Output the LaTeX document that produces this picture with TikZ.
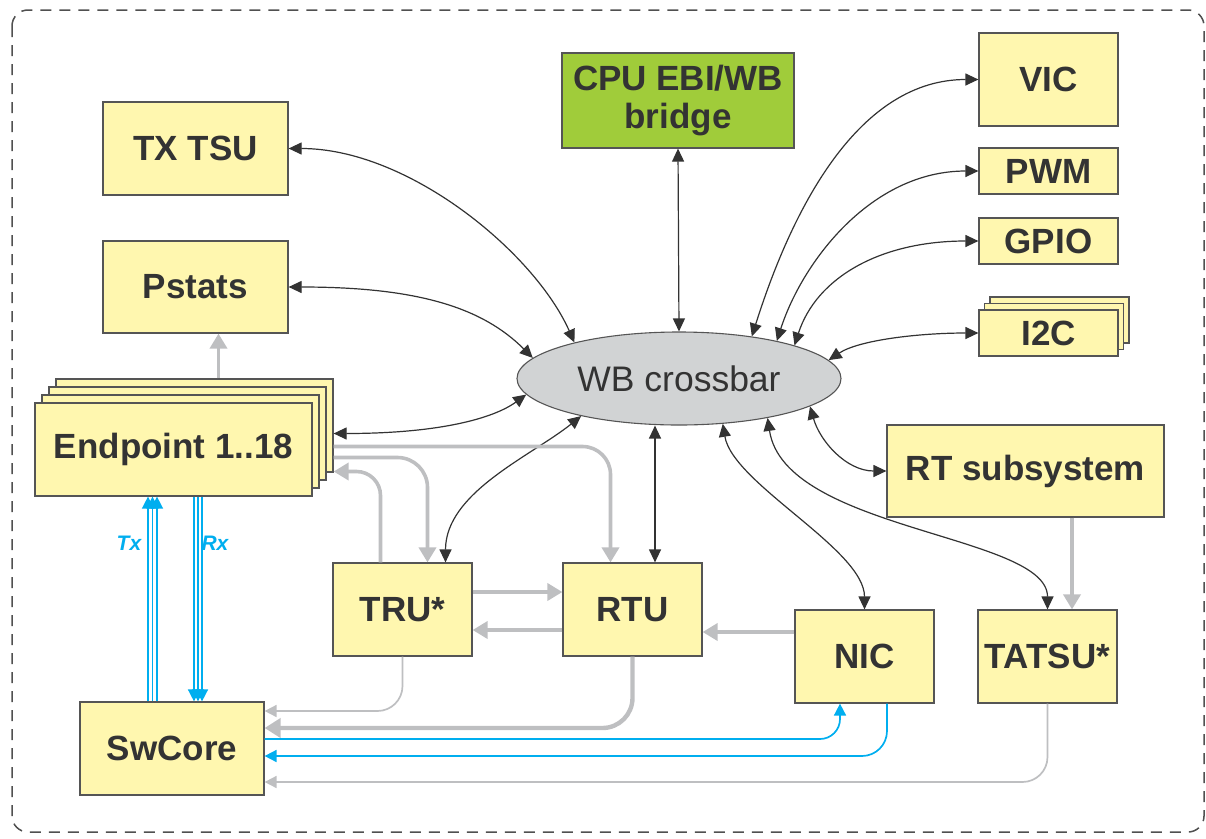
\documentclass[tikz,border=0pt]{standalone}
\usepackage{fontspec}
\setmainfont{Liberation Sans}
\usetikzlibrary{arrows.meta,calc,shapes.geometric}

\definecolor{boxfill}{RGB}{255,247,175}
\definecolor{boxline}{RGB}{85,85,85}
\definecolor{txt}{RGB}{51,51,51}
\definecolor{cpugreen}{RGB}{160,204,58}
\definecolor{busfill}{RGB}{209,211,212}
\definecolor{linkdark}{RGB}{51,51,51}
\definecolor{linkgray}{RGB}{190,191,193}
\definecolor{linkblue}{RGB}{0,174,239}
\definecolor{framecol}{RGB}{80,80,80}

\begin{document}
\begin{tikzpicture}[x=1pt,y=-1pt,
  blk/.style={draw=boxline, line width=1.2pt, fill=boxfill, inner sep=0pt,
              text=txt, font=\fontsize{35}{38}\selectfont\bfseries, align=center},
  bus/.style={ellipse, draw=boxline, line width=1.1pt, fill=busfill, inner sep=0pt,
              text=txt, font=\fontsize{35.5}{38}\selectfont},
  dk/.style={draw=linkdark, line width=1.2pt,
             arrows={Triangle[length=13pt,width=12pt]-Triangle[length=13pt,width=12pt]}},
  gk/.style={draw=linkgray, line width=3.6pt,
             arrows={-Triangle[length=15pt,width=17pt]}},
  gheavy/.style={draw=linkgray, line width=4.4pt,
             arrows={-Triangle[length=16pt,width=19pt]}},
  gthin/.style={draw=linkgray, line width=1.7pt,
             arrows={-Triangle[length=12pt,width=12pt]}},
  bl/.style={draw=linkblue, line width=1.7pt,
             arrows={-Triangle[length=12pt,width=12pt]}},
  blt/.style={draw=linkblue, line width=1.5pt,
             arrows={-Triangle[length=12pt,width=12pt]}},
  lbl/.style={text=linkblue, inner sep=0pt, font=\fontsize{21}{23}\selectfont\bfseries\itshape},
  frame/.style={draw=framecol, line width=1.5pt, dash pattern=on 11pt off 8pt, rounded corners=16pt}
]
\useasboundingbox (0,0) rectangle (1206,838);

% outer dashed frame
\draw[frame] (12,10) rectangle (1204,832);

% ---- blocks ----
\node[blk, minimum width=185pt, minimum height=93pt] (txtsu) at (195.5,148.5) {TX TSU};
\node[blk, minimum width=185pt, minimum height=92pt] (pstats) at (195.5,287) {Pstats};

% endpoint stack (back to front)
\node[blk, minimum width=277pt, minimum height=93pt] (epback) at (194.5,425.5) {};
\node[blk, minimum width=277pt, minimum height=93pt] (ep2) at (187.5,433.5) {};
\node[blk, minimum width=277pt, minimum height=93pt] (ep1) at (180.5,441.5) {};
\node[blk, minimum width=277pt, minimum height=93pt] (ep) at (173.5,449.5) {Endpoint 1..18};

\node[blk, fill=cpugreen, minimum width=232pt, minimum height=95pt] (cpu) at (678,100.5) {CPU EBI/WB\\bridge};

\node[blk, minimum width=139pt, minimum height=93pt] (vic) at (1048.5,79.5) {VIC};
\node[blk, minimum width=139pt, minimum height=46pt] (pwm) at (1048.5,171) {PWM};
\node[blk, minimum width=139pt, minimum height=46pt] (gpio) at (1048.5,241) {GPIO};

% I2C stack (back to front)
\node[blk, minimum width=139pt, minimum height=46pt] (i2cback) at (1059.5,320) {};
\node[blk, minimum width=139pt, minimum height=46pt] (i2cmid) at (1054,326.5) {};
\node[blk, minimum width=139pt, minimum height=46pt] (i2c) at (1048.5,333) {I2C};

\node[bus, minimum width=324pt, minimum height=93pt] (wb) at (679,378.5) {WB crossbar};

\node[blk, minimum width=277pt, minimum height=92pt] (rt) at (1025.5,471) {RT subsystem};
\node[blk, minimum width=139pt, minimum height=93pt] (tru) at (402.5,609.5) {TRU*};
\node[blk, minimum width=139pt, minimum height=93pt] (rtu) at (632.5,609.5) {RTU};
\node[blk, minimum width=139pt, minimum height=93pt] (nic) at (864.5,656.5) {NIC};
\node[blk, minimum width=139pt, minimum height=93pt] (tatsu) at (1047.5,656.5) {TATSU*};
\node[blk, minimum width=184pt, minimum height=93pt] (swcore) at (172,748.5) {SwCore};

% ---- Wishbone links (bidirectional) ----
\draw[dk] (txtsu.east) .. controls +(120,0) and +(-40,-90) .. (wb.161);
\draw[dk] (pstats.east) .. controls +(130,0) and +(-50,-50) .. (wb.172);
\draw[dk] ([yshift=-8pt]epback.east) .. controls +(105,0) and +(-33,24) .. (wb.186);
\draw[dk] (wb.201) .. controls +(-50,40) and +(0,-70) .. ([xshift=43pt]tru.north);
\draw[dk] (cpu.south) -- (wb.north);
\draw[dk] ([xshift=22.5pt]rtu.north) -- ([xshift=22.5pt]rtu.north |- wb.south);
\draw[dk] (wb.314) .. controls +(10,60) and +(0,-60) .. (nic.north);
\draw[dk] (wb.336) .. controls +(17,113) and +(0,-75) .. (tatsu.north);
\draw[dk] (wb.348) .. controls +(10,35) and +(-40,0) .. (rt.west);
\draw[dk] (wb.7) .. controls +(30,-20) and +(-60,0) .. (i2c.west);
\draw[dk] (wb.16) .. controls +(22,-68) and +(-98,0) .. (gpio.west);
\draw[dk] (wb.21) .. controls +(25,-78) and +(-108,0) .. (pwm.west);
\draw[dk] (wb.30) .. controls +(42,-133) and +(-118,0) .. (vic.west);

% ---- data-path links ----
\draw[gk] ([xshift=23pt]pstats.south |- epback.north) -- ([xshift=23pt]pstats.south);
\draw[gk, rounded corners=28pt] ([yshift=-21pt]epback.east) -| ([xshift=-22pt]rtu.north);
\draw[gk, rounded corners=30pt] ([yshift=-32pt]epback.east) -| ([xshift=25pt]tru.north);
\draw[gk, rounded corners=24pt] ([xshift=-22pt]tru.north) |- ([yshift=-46pt]epback.east);
\draw[gk] ([yshift=17.5pt]tru.east) -- ([yshift=17.5pt]tru.east -| rtu.west);
\draw[gk] ([yshift=-20.5pt]rtu.west) -- ([yshift=-20.5pt]rtu.west -| tru.east);
\draw[gk] ([yshift=24.5pt]nic.west) -- ([yshift=24.5pt]nic.west -| rtu.east);
\draw[gk] ([xshift=46.5pt]rt.south) -- ([xshift=46.5pt]rt.south |- tatsu.north);

\draw[gthin, rounded corners=25pt] (tru.south) |- ([yshift=37.5pt]swcore.east);
\draw[gheavy, rounded corners=30pt] (rtu.south) |- ([yshift=20.5pt]swcore.east);
\draw[gthin, rounded corners=25pt] (tatsu.south) |- ([yshift=-33.5pt]swcore.east);

\draw[bl, rounded corners=20pt] ([yshift=9.5pt]swcore.east) -| ([xshift=-24.5pt]nic.south);
\draw[bl, rounded corners=25pt] ([xshift=22.5pt]nic.south) |- ([yshift=-7.5pt]swcore.east);

% Tx / Rx buses between SwCore and the endpoints
\foreach \s in {-24,-19.5,-15}
  \draw[blt] ([xshift=\s pt]swcore.north) -- ([xshift=\s pt]swcore.north |- ep.south);
\foreach \s in {22,26,30}
  \draw[blt] ([xshift=\s pt]swcore.north |- ep.south) -- ([xshift=\s pt]swcore.north);

\node[lbl] (txlbl) at (129,543) {Tx};
\node[lbl] (rxlbl) at (215,543) {Rx};
\end{tikzpicture}
\end{document}
